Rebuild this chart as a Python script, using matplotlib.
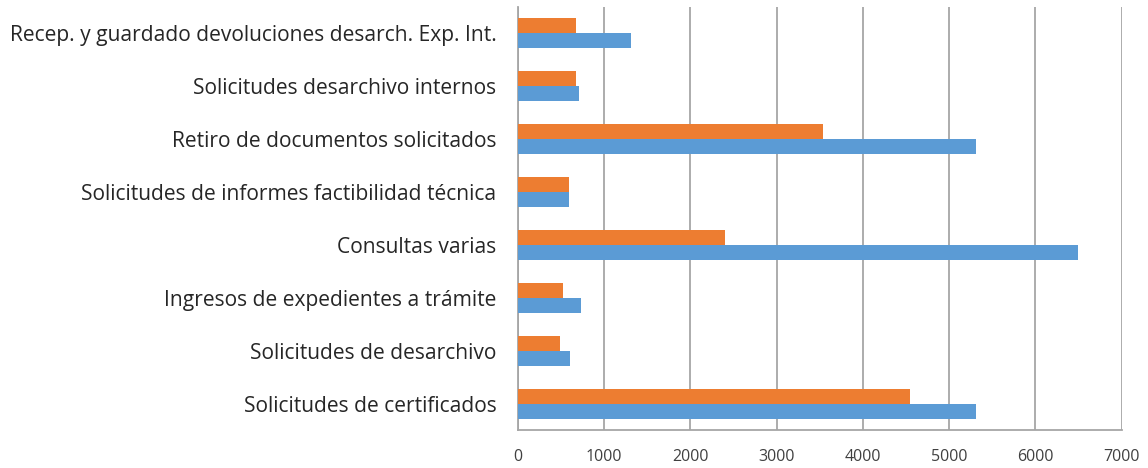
import matplotlib
matplotlib.use("Agg")
import matplotlib.pyplot as plt
import numpy as np

categories = [
    "Solicitudes de certificados",
    "Solicitudes de desarchivo",
    "Ingresos de expedientes a trámite",
    "Consultas varias",
    "Solicitudes de informes factibilidad técnica",
    "Retiro de documentos solicitados",
    "Solicitudes desarchivo internos",
    "Recep. y guardado devoluciones desarch. Exp. Int.",
]
blue_values = [5310, 600, 735, 6490, 590, 5310, 705, 1315]
orange_values = [4540, 485, 525, 2400, 590, 3540, 675, 675]
xticks = [0, 1000, 2000, 3000, 4000, 5000, 6000, 7000]

plt.rcParams['font.family'] = ['Open Sans', 'DejaVu Sans']

fig = plt.figure(figsize=(11.48, 4.68), dpi=100)
ax = fig.add_axes([518/1148, 1-430/468, (1121.7-518)/1148, (430-7)/468])

y = np.arange(len(categories))
h = 0.284
ax.barh(y - h/2, blue_values, height=h, color="#5B9BD5", zorder=3)
ax.barh(y + h/2, orange_values, height=h, color="#ED7D31", zorder=3)

ax.set_xlim(0, 7000)
ax.set_ylim(-0.5, len(categories) - 0.5)
ax.set_xticks(xticks)
ax.set_xticklabels([str(t) for t in xticks], fontsize=11.5, color="#404040")
ax.set_yticks(y)
ax.set_yticklabels(categories, fontsize=15.1, color="#262626")
ax.tick_params(axis='both', length=0)
ax.tick_params(axis='x', pad=14)
ax.tick_params(axis='y', pad=15.5)

ax.grid(axis='x', color="#A6A6A6", linewidth=1.3, zorder=0)
for s in ['top', 'right']:
    ax.spines[s].set_visible(False)
for s in ['left', 'bottom']:
    ax.spines[s].set_color("#A6A6A6")
    ax.spines[s].set_linewidth(1.3)

fig.savefig("out.png", dpi=100)
